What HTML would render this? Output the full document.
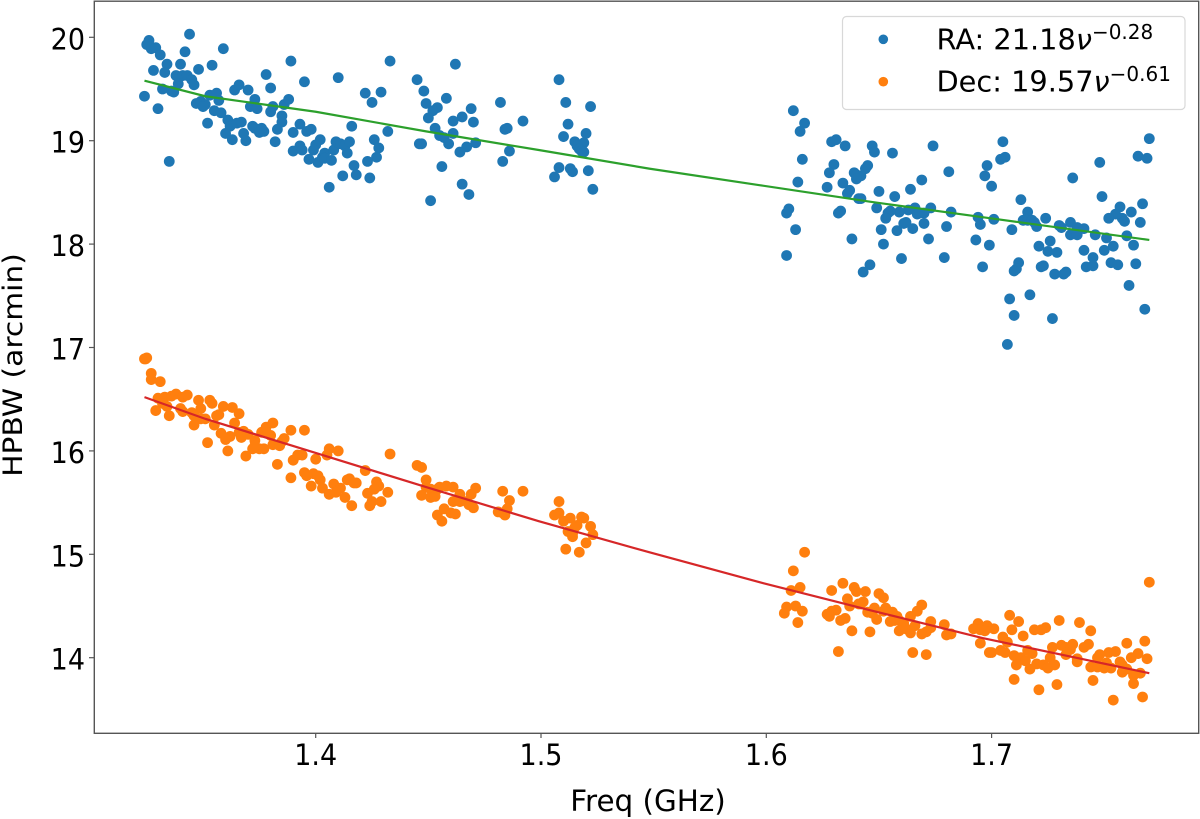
<!DOCTYPE html>
<html>
<head>
<meta charset="utf-8">
<style>
html,body{margin:0;padding:0;background:#fff;}
svg{display:block;filter:blur(0.35px);}
text{font-family:"DejaVu Sans","Liberation Sans",sans-serif;fill:#000;}
</style>
</head>
<body>
<svg id="chart" width="1200" height="819" viewBox="0 0 1200 819" xmlns="http://www.w3.org/2000/svg">
  <rect width="1200" height="819" fill="#fff"/>
  <g id="marks"></g>
  <g id="axes"></g>
  <g>
    <rect x="842.5" y="16.5" width="342.5" height="93" rx="4" fill="#fff" fill-opacity="0.8" stroke="#d8d8d8" stroke-width="1.2"/>
    <circle cx="883.3" cy="39.3" r="4.8" fill="#1f77b4"/>
    <text x="936.5" y="49.3" font-size="28.8">RA: 21.18<tspan font-style="italic">ν</tspan><tspan font-size="20" dy="-10.5">−0.28</tspan></text>
    <circle cx="883.3" cy="81.7" r="4.8" fill="#ff7f0e"/>
    <text x="936.5" y="91.7" font-size="28.8">Dec: 19.57<tspan font-style="italic">ν</tspan><tspan font-size="20" dy="-10.5">−0.61</tspan></text>
  </g>
</svg>
<script>
const xTicks = [1.4, 1.5, 1.6, 1.7];
const xTickLabels = ["1.4", "1.5", "1.6", "1.7"];
const yTicks = [14, 15, 16, 17, 18, 19, 20];
const yTickLabels = ["14", "15", "16", "17", "18", "19", "20"];

const raFreq = [
1.326,1.325,1.327,1.329,1.331,1.344,1.342,1.359,1.334,1.340,
1.328,1.333,1.348,1.354,1.338,1.341,1.343,1.345,1.346,1.339,
1.332,1.336,1.337,1.324,1.330,1.335,1.347,1.349,1.351,1.350,
1.353,1.356,1.357,1.355,1.358,1.352,1.361,1.362,1.364,1.366,
1.370,1.378,1.380,1.389,1.395,1.410,1.373,1.371,1.374,1.380,
1.381,1.386,1.388,1.385,1.385,1.383,1.393,1.396,1.398,1.390,
1.416,1.365,1.367,1.372,1.373,1.375,1.377,1.376,1.368,1.360,
1.363,1.369,1.382,1.402,1.400,1.399,1.393,1.390,1.394,1.397,
1.401,1.404,1.403,1.404,1.407,1.408,1.409,1.411,1.413,1.415,
1.414,1.417,1.412,1.418,1.406,
1.433,1.422,1.429,1.425,1.432,1.426,1.428,1.427,1.423,1.424,
1.445,1.448,1.462,1.458,1.449,1.454,1.452,1.450,1.469,1.465,
1.461,1.470,1.453,1.461,1.455,1.457,1.459,1.471,1.467,1.464,
1.446,1.447,1.456,1.465,1.468,1.451,1.482,1.492,1.484,1.485,
1.486,1.483,1.508,1.511,1.522,1.512,1.520,1.510,1.515,1.519,
1.516,1.517,1.518,1.519,1.508,1.506,1.513,1.514,1.521,1.523,
1.612,1.617,1.615,1.629,1.631,1.635,1.647,1.648,1.656,1.674,
1.616,1.630,1.628,1.645,1.644,1.639,1.642,1.640,1.640,1.681,
1.669,1.664,1.614,1.627,1.634,1.637,1.636,1.650,1.657,1.641,
1.642,1.649,1.666,1.673,1.682,1.663,1.659,1.655,1.654,1.653,
1.667,1.670,1.668,1.610,1.609,1.632,1.633,1.613,1.651,1.658,
1.661,1.662,1.665,1.670,1.680,1.672,1.638,1.652,1.693,1.609,
1.660,1.679,1.646,1.643,
1.705,1.706,1.704,1.698,1.697,1.700,1.748,1.736,1.770,1.765,
1.769,1.713,1.749,1.767,1.757,1.762,1.716,1.724,1.755,1.752,
1.758,1.759,1.766,1.694,1.695,1.701,1.714,1.716,1.718,1.719,
1.720,1.709,1.730,1.731,1.735,1.738,1.741,1.735,1.738,1.746,
1.751,1.760,1.699,1.721,1.726,1.725,1.729,1.741,1.750,1.754,
1.763,1.745,1.712,1.753,1.756,1.764,1.696,1.711,1.710,1.722,
1.723,1.728,1.732,1.733,1.742,1.745,1.761,1.708,1.717,1.710,
1.727,1.768,1.707
];
const raHpbw = [
19.97,19.93,19.89,19.90,19.83,20.03,19.86,19.89,19.74,19.74,
19.68,19.66,19.69,19.73,19.63,19.63,19.63,19.59,19.54,19.55,
19.50,19.48,19.47,19.43,19.31,18.80,19.36,19.38,19.35,19.33,
19.44,19.46,19.39,19.29,19.27,19.17,19.20,19.14,19.49,19.54,
19.49,19.64,19.51,19.77,19.57,19.61,19.40,19.33,19.31,19.28,
19.33,19.35,19.40,19.24,19.18,19.11,19.16,19.09,19.11,19.08,
19.14,19.17,19.18,19.14,19.12,19.08,19.09,19.12,19.07,19.07,
19.01,19.00,18.99,19.01,18.96,18.91,18.95,18.90,18.91,18.82,
18.79,18.88,18.84,18.83,18.81,18.91,18.99,18.97,18.95,18.99,
18.88,18.76,18.66,18.67,18.55,
19.77,19.46,19.47,19.37,19.09,19.01,18.93,18.84,18.80,18.64,
19.59,19.48,19.74,19.41,19.36,19.32,19.29,19.22,19.31,19.23,
19.19,19.18,19.12,19.07,19.05,19.03,18.97,18.98,18.94,18.89,
18.97,18.97,18.75,18.58,18.48,18.42,19.37,19.19,19.11,19.12,
18.90,18.80,19.59,19.37,19.33,19.16,19.07,19.04,18.99,18.98,
18.95,18.92,18.90,18.89,18.74,18.65,18.73,18.70,18.71,18.53,
19.29,19.17,19.09,18.99,19.01,18.95,18.95,18.89,18.88,18.95,
18.82,18.77,18.69,18.76,18.73,18.69,18.66,18.67,18.63,18.70,
18.62,18.53,18.60,18.55,18.59,18.52,18.49,18.51,18.46,18.44,
18.44,18.35,18.35,18.35,18.31,18.33,18.31,18.32,18.30,18.25,
18.29,18.30,18.30,18.34,18.30,18.30,18.32,18.14,18.14,18.13,
18.20,18.21,18.15,18.20,18.17,18.05,18.05,18.00,18.04,17.89,
17.86,17.87,17.80,17.73,
18.99,18.84,18.82,18.76,18.66,18.56,18.79,18.64,19.02,18.85,
18.83,18.43,18.46,18.39,18.36,18.31,18.31,18.25,18.29,18.25,
18.25,18.22,18.21,18.26,18.19,18.24,18.23,18.23,18.23,18.21,
18.17,18.14,18.18,18.16,18.21,18.16,18.15,18.09,18.09,18.09,
18.06,18.08,17.99,17.98,18.03,17.93,17.92,17.94,17.94,17.98,
17.99,17.87,17.82,17.82,17.80,17.81,17.78,17.76,17.74,17.78,
17.79,17.71,17.71,17.73,17.78,17.79,17.60,17.47,17.51,17.31,
17.28,17.37,17.03
];
const decFreq = [
1.324,1.325,1.3245,1.327,1.327,1.331,1.329,1.335,1.330,1.333,
1.336,1.338,1.341,1.343,1.348,1.353,1.354,1.359,1.363,1.366,
1.349,1.332,1.334,1.340,1.341,1.345,1.346,1.351,1.349,1.356,
1.357,1.346,1.355,1.364,1.352,1.358,1.362,1.360,1.361,1.366,
1.368,1.367,1.370,1.373,1.372,1.369,1.375,1.377,1.373,1.376,
1.378,1.381,1.380,1.381,1.384,1.386,1.385,1.389,1.395,1.383,
1.390,1.392,1.394,1.400,1.405,1.406,1.410,1.389,1.395,1.399,
1.396,1.401,1.402,1.398,1.403,1.408,1.414,1.411,1.409,1.406,
1.413,1.416,1.415,1.418,1.417,1.422,1.433,1.427,1.428,1.426,
1.423,1.432,1.425,1.424,1.429,1.445,1.447,1.449,1.449,1.447,
1.451,1.451,1.453,1.454,1.455,1.458,1.461,1.464,1.471,1.469,
1.461,1.464,1.467,1.468,1.470,1.454,1.457,1.460,1.462,1.456,
1.483,1.492,1.486,1.485,1.481,1.483,1.484,1.508,1.508,1.506,
1.510,1.513,1.518,1.519,1.522,1.516,1.515,1.512,1.514,1.514,
1.523,1.520,1.511,1.517,
1.617,1.612,1.615,1.611,1.609,1.608,1.613,1.616,1.614,1.629,
1.634,1.639,1.640,1.644,1.650,1.652,1.636,1.643,1.641,1.642,
1.637,1.631,1.629,1.627,1.628,1.635,1.633,1.645,1.648,1.647,
1.653,1.652,1.649,1.656,1.658,1.655,1.657,1.669,1.667,1.664,
1.659,1.661,1.659,1.662,1.664,1.666,1.673,1.673,1.679,1.671,
1.669,1.680,1.682,1.638,1.646,1.632,1.665,1.671,
1.770,1.708,1.712,1.694,1.698,1.692,1.695,1.697,1.701,1.709,
1.730,1.739,1.744,1.724,1.722,1.719,1.714,1.705,1.707,1.695,
1.699,1.700,1.704,1.706,1.710,1.716,1.718,1.727,1.731,1.733,
1.735,1.736,1.733,1.741,1.743,1.760,1.768,1.765,1.762,1.769,
1.755,1.752,1.748,1.747,1.738,1.738,1.713,1.715,1.726,1.711,
1.717,1.720,1.723,1.725,1.728,1.744,1.747,1.750,1.751,1.753,
1.757,1.758,1.758,1.760,1.763,1.766,1.763,1.710,1.721,1.729,
1.745,1.754,1.767
];
const decHpbw = [
16.89,16.90,16.89,16.75,16.69,16.67,16.39,16.34,16.51,16.52,
16.53,16.55,16.52,16.54,16.49,16.49,16.46,16.43,16.42,16.36,
16.41,16.46,16.43,16.41,16.38,16.37,16.34,16.31,16.31,16.34,
16.35,16.25,16.25,16.27,16.08,16.17,16.14,16.11,16.00,16.18,
16.19,16.13,16.16,16.10,16.02,15.95,16.02,16.02,16.05,16.18,
16.23,16.27,16.15,16.06,16.05,16.12,16.09,16.20,16.20,15.87,
15.91,15.96,15.96,15.92,15.96,16.02,16.00,15.74,15.79,15.78,
15.76,15.76,15.72,15.66,15.64,15.68,15.72,15.64,15.60,15.58,
15.55,15.47,15.73,15.69,15.69,15.81,15.97,15.70,15.66,15.63,
15.59,15.60,15.51,15.47,15.51,15.86,15.84,15.72,15.65,15.57,
15.63,15.55,15.56,15.63,15.65,15.66,15.65,15.58,15.64,15.58,
15.51,15.51,15.51,15.48,15.45,15.38,15.44,15.40,15.39,15.32,
15.61,15.61,15.52,15.44,15.41,15.40,15.38,15.51,15.40,15.38,
15.32,15.35,15.36,15.35,15.27,15.28,15.26,15.22,15.20,15.17,
15.19,15.11,15.05,15.02,
15.02,14.84,14.68,14.65,14.49,14.43,14.50,14.45,14.34,14.65,
14.72,14.68,14.64,14.64,14.62,14.58,14.57,14.54,14.52,14.52,
14.50,14.46,14.45,14.42,14.40,14.38,14.36,14.44,14.48,14.43,
14.48,14.45,14.37,14.44,14.40,14.35,14.36,14.51,14.45,14.40,
14.36,14.33,14.26,14.28,14.24,14.31,14.35,14.29,14.32,14.25,
14.23,14.22,14.23,14.26,14.25,14.06,14.05,14.03,
14.73,14.41,14.35,14.33,14.31,14.28,14.27,14.26,14.28,14.27,
14.36,14.34,14.26,14.29,14.27,14.27,14.21,14.20,14.15,14.14,
14.05,14.05,14.07,14.05,14.02,14.07,14.04,14.10,14.12,14.10,
14.08,14.13,14.03,14.10,14.13,14.14,14.16,14.04,14.00,13.99,
14.06,14.05,14.03,14.00,13.99,13.96,14.00,13.97,14.00,13.93,
13.89,13.94,13.93,13.90,13.93,13.91,13.91,13.90,13.95,13.90,
13.96,13.93,13.86,13.89,13.83,13.85,13.75,13.79,13.69,13.74,
13.78,13.59,13.62
];
const fitFreq = [1.324, 1.351, 1.4, 1.449, 1.499, 1.548, 1.597, 1.646, 1.696, 1.770];
const raFitHpbw = [19.58, 19.43, 19.28, 19.09, 18.91, 18.73, 18.57, 18.41, 18.26, 18.04];
const decFitHpbw = [16.52, 16.31, 15.98, 15.65, 15.32, 15.02, 14.73, 14.46, 14.19, 13.85];

const NS = "http://www.w3.org/2000/svg";
const xScale = f => 315.7 + (f - 1.4) * 2253;
const yScale = v => 37.3 + (20 - v) * 103.4;
const marks = document.getElementById("marks");
const axes = document.getElementById("axes");

function drawPoints(freqs, values, color, name) {
  const group = document.createElementNS(NS, "g");
  
  
  freqs.forEach((f, i) => {
    const c = document.createElementNS(NS, "circle");
    c.setAttribute("cx", xScale(f).toFixed(2));
    c.setAttribute("cy", yScale(values[i]).toFixed(2));
    c.setAttribute("r", 5.4);
    c.setAttribute("fill", color);
    
    
    group.appendChild(c);
  });
  marks.appendChild(group);
}
function drawLine(freqs, values, color, name) {
  const p = document.createElementNS(NS, "polyline");
  p.setAttribute("points", freqs.map((f, i) => xScale(f).toFixed(2) + "," + yScale(values[i]).toFixed(2)).join(" "));
  p.setAttribute("fill", "none");
  p.setAttribute("stroke", color);
  p.setAttribute("stroke-width", 2.2);
  
  
  marks.appendChild(p);
}
drawPoints(raFreq, raHpbw, "#1f77b4", "ra");
drawPoints(decFreq, decHpbw, "#ff7f0e", "dec");
drawLine(fitFreq, raFitHpbw, "#2ca02c", "ra-fit-line");
drawLine(fitFreq, decFitHpbw, "#d62728", "dec-fit-line");

const frame = document.createElementNS(NS, "rect");
frame.setAttribute("x", 94.3);
frame.setAttribute("y", 1.2);
frame.setAttribute("width", 1104.4);
frame.setAttribute("height", 732.1);
frame.setAttribute("fill", "none");
frame.setAttribute("stroke", "#555");
frame.setAttribute("stroke-width", 1.4);


axes.appendChild(frame);

xTicks.forEach((t, i) => {
  const l = document.createElementNS(NS, "line");
  l.setAttribute("x1", xScale(t)); l.setAttribute("x2", xScale(t));
  l.setAttribute("y1", 733); l.setAttribute("y2", 738);
  l.setAttribute("stroke", "#555"); l.setAttribute("stroke-width", 1.2);
  
  
  axes.appendChild(l);
  const s = document.createElementNS(NS, "text");
  s.setAttribute("transform", "translate(" + xScale(t) + ",765) scale(1,1.1)");
  s.setAttribute("text-anchor", "middle");
  s.setAttribute("font-size", 27);
  s.textContent = xTickLabels[i];
  
  
  axes.appendChild(s);
});
yTicks.forEach((t, i) => {
  const l = document.createElementNS(NS, "line");
  l.setAttribute("x1", 89); l.setAttribute("x2", 94.5);
  l.setAttribute("y1", yScale(t)); l.setAttribute("y2", yScale(t));
  l.setAttribute("stroke", "#555"); l.setAttribute("stroke-width", 1.2);
  
  
  axes.appendChild(l);
  const s = document.createElementNS(NS, "text");
  s.setAttribute("transform", "translate(85," + (yScale(t) + 12) + ") scale(1,1.1)");
  s.setAttribute("text-anchor", "end");
  s.setAttribute("font-size", 27);
  s.textContent = yTickLabels[i];
  
  
  axes.appendChild(s);
});
const xTitle = document.createElementNS(NS, "text");
xTitle.setAttribute("transform", "translate(648,811)");
xTitle.setAttribute("text-anchor", "middle");
xTitle.setAttribute("font-size", 29.4);
xTitle.textContent = "Freq (GHz)";


axes.appendChild(xTitle);
const yTitle = document.createElementNS(NS, "text");
yTitle.setAttribute("transform", "translate(22,365) rotate(-90) scale(1.1,1)");
yTitle.setAttribute("text-anchor", "middle");
yTitle.setAttribute("font-size", 27);
yTitle.textContent = "HPBW (arcmin)";


axes.appendChild(yTitle);
</script>
</body>
</html>
